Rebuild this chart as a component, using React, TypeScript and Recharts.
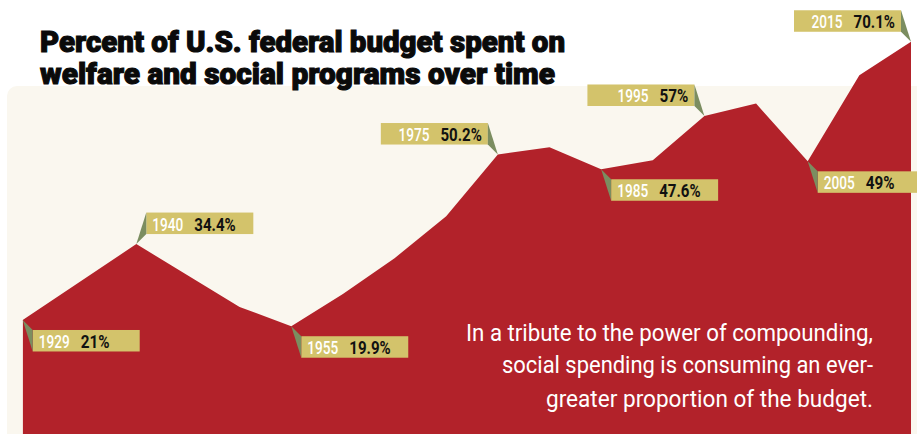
import { AreaChart, Area, XAxis, YAxis } from 'recharts'

const years = [1929, 1940, 1950, 1955, 1960, 1965, 1970, 1975, 1980, 1985, 1990, 1995, 2000, 2005, 2010, 2015]
const shares = [21, 34.4, 23.3, 19.9, 25.6, 31.9, 39.3, 50.2, 51.5, 47.6, 49.2, 57, 59.2, 49, 64.2, 70.1]

// which points get a tag, and where the tag sits
const taggedYears = [1929, 1940, 1955, 1975, 1985, 1995, 2005, 2015]
const tagSides = ['below-right', 'above-right', 'below-right', 'above-left', 'below-right', 'above-left', 'below-right', 'above-left']

const titleLines = ['Percent of U.S. federal budget spent on', 'welfare and social programs over time']
const noteLines = [
  'In a tribute to the power of compounding,',
  'social spending is consuming an ever-',
  'greater proportion of the budget.',
]

const data = years.map((year, i) => ({ year, share: shares[i] }))

const RED = '#b2222a'
const KHAKI = '#d3c36b'
const GREEN = '#7b8d60'
const CREAM = '#faf7ef'

const TAG_W = 107
const TAG_H = 21.5
const GAP = 10

// rough condensed widths so the numbers hug the box like in the print version
function valueWidth(s: string) {
  let w = 0
  for (const ch of s) {
    if (ch === '.') w += 4.2
    else if (ch === '%') w += 12
    else w += 8.4
  }
  return w
}

function Tag(props: any) {
  const { x, y, index } = props
  const year = index != null ? years[index] : props.payload?.year
  const k = taggedYears.indexOf(year)
  if (k < 0 || x == null || y == null) return null
  const side = tagSides[k]
  const value = `${shares[years.indexOf(year)]}%`
  const vw = valueWidth(value)

  let bx: number
  let by: number
  let tri: string
  if (side === 'below-right') {
    bx = x + GAP
    by = y + GAP
    tri = `${x},${y} ${bx},${by} ${bx},${by + TAG_H}`
  } else if (side === 'above-right') {
    bx = x + GAP
    by = y - GAP - TAG_H
    tri = `${x},${y} ${bx},${by} ${bx},${by + TAG_H}`
  } else {
    bx = x - GAP - TAG_W
    by = y - GAP - TAG_H
    tri = `${x},${y} ${bx + TAG_W},${by} ${bx + TAG_W},${by + TAG_H}`
  }

  let yearX: number
  let valX: number
  if (side === 'above-left') {
    valX = bx + TAG_W - 6 - vw
    yearX = valX - 11 - 31
  } else {
    yearX = bx + 6
    valX = yearX + 31 + 11
  }
  const base = by + 18

  return (
    <g>
      <rect x={bx} y={by} width={TAG_W} height={TAG_H} fill={KHAKI} />
      <polygon points={tri} fill={GREEN} />
      <text x={yearX} y={base} fill="#fff" fontFamily="Roboto, sans-serif" fontWeight={500} fontSize={18}
        textLength={31} lengthAdjust="spacingAndGlyphs">{year}</text>
      <text x={valX} y={base} fill="#111" fontFamily="Roboto, sans-serif" fontWeight={700} fontSize={18}
        textLength={vw} lengthAdjust="spacingAndGlyphs">{value}</text>
    </g>
  )
}

export default function App() {
  return (
    <div style={{ position: 'absolute', left: 0, top: 0, width: 917, height: 434, overflow: 'hidden', background: '#fff' }}>
      {/* cream panel */}
      <div style={{ position: 'absolute', left: 7, top: 86, width: 910, height: 348, background: CREAM, borderTopLeftRadius: 10 }} />

      <div style={{ position: 'absolute', left: 0, top: 0 }}>
        <AreaChart width={917} height={434} data={data} margin={{ top: 0, right: 6, bottom: 0, left: 22.7 }}>
          <XAxis dataKey="year" type="number" domain={[1929, 2015]} allowDataOverflow hide />
          <YAxis type="number" domain={[0.88, 77.47]} allowDataOverflow hide />
          <Area
            type="linear"
            dataKey="share"
            stroke="none"
            fill={RED}
            fillOpacity={1}
            baseValue="dataMin"
            dot={false}
            activeDot={false}
            label={<Tag />}
            isAnimationActive={false}
          />
        </AreaChart>
      </div>

      <svg width={917} height={434} style={{ position: 'absolute', left: 0, top: 0, pointerEvents: 'none' }}>
        {/* heavy headline: bold face plus a thin stroke to thicken it */}
        <text x={40} y={52} fontFamily="Roboto, sans-serif" fontWeight={900} fontSize={30} fill="#0a0a0a"
          stroke="#0a0a0a" strokeWidth={1.1} textLength={525} lengthAdjust="spacingAndGlyphs">{titleLines[0]}</text>
        <text x={40} y={83.5} fontFamily="Roboto, sans-serif" fontWeight={900} fontSize={30} fill="#0a0a0a"
          stroke="#0a0a0a" strokeWidth={1.1} textLength={515} lengthAdjust="spacingAndGlyphs">{titleLines[1]}</text>

        <text x={466} y={340.7} fontFamily="Roboto, sans-serif" fontSize={23} fill="#fff"
          textLength={407} lengthAdjust="spacingAndGlyphs">{noteLines[0]}</text>
        <text x={502} y={373.3} fontFamily="Roboto, sans-serif" fontSize={23} fill="#fff"
          textLength={371} lengthAdjust="spacingAndGlyphs">{noteLines[1]}</text>
        <text x={546} y={406.7} fontFamily="Roboto, sans-serif" fontSize={23} fill="#fff"
          textLength={327} lengthAdjust="spacingAndGlyphs">{noteLines[2]}</text>
      </svg>
    </div>
  )
}
